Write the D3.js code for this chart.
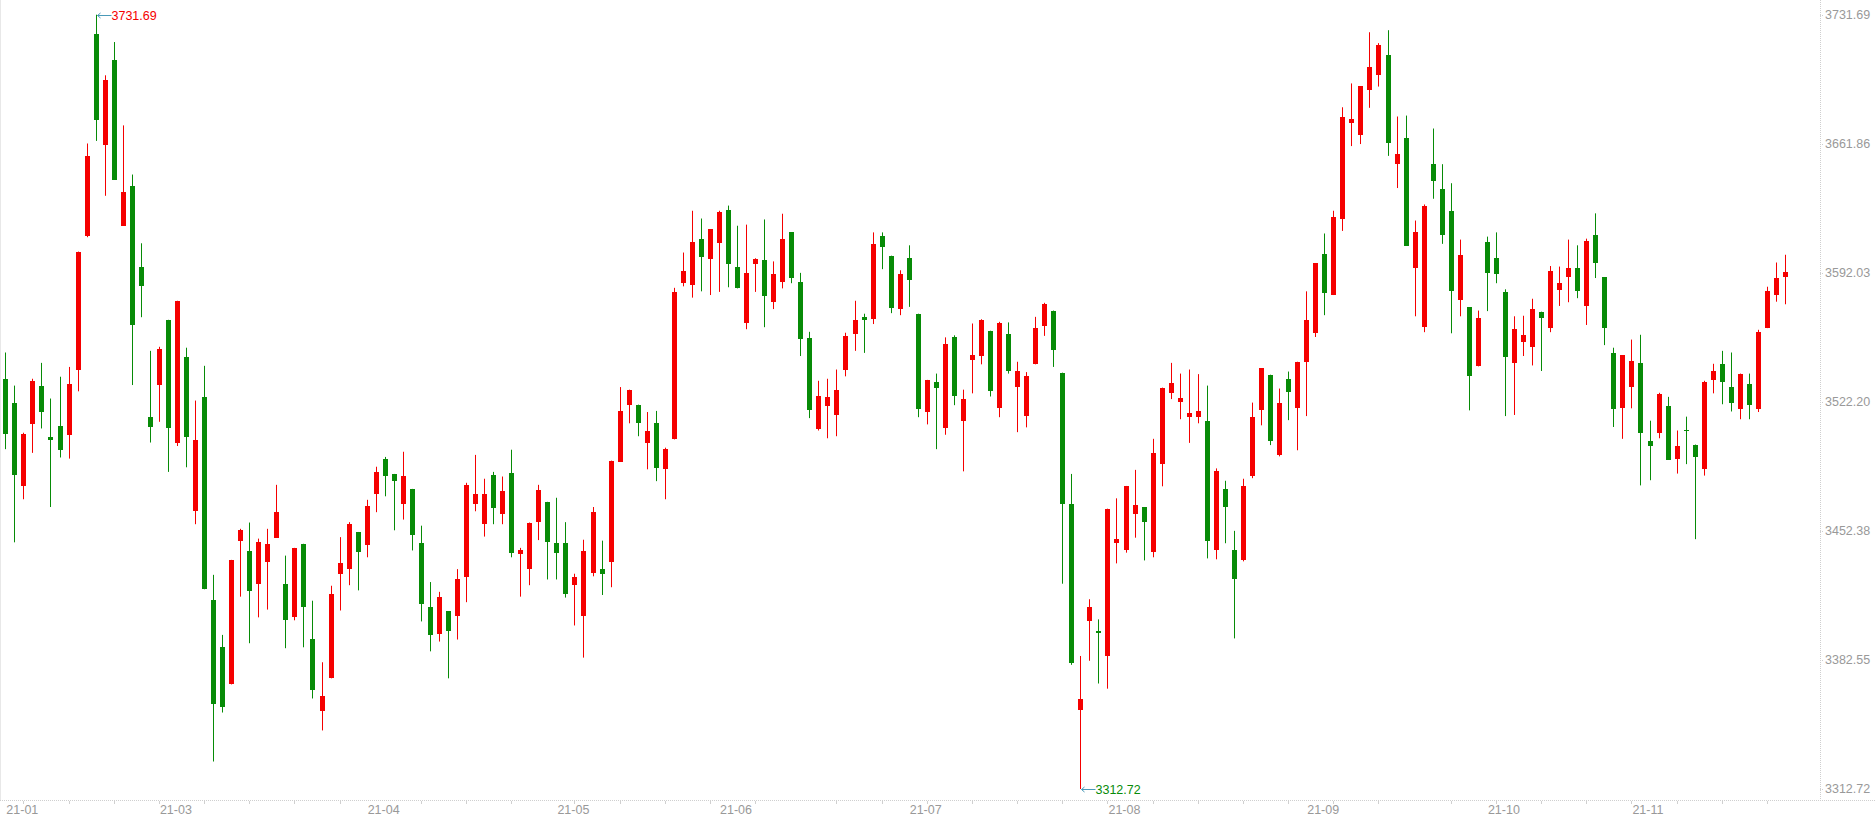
<!DOCTYPE html>
<html>
<head>
<meta charset="utf-8">
<title>K线图</title>
<script src="https://cdn.jsdelivr.net/npm/d3@7"></script>
<style>
    html, body { margin: 0; padding: 0; background: #fff; overflow: hidden; }
    .plot-container { width: 1876px; height: 818px; }
    text { font-family: Arial, "Liberation Sans", sans-serif; }
</style>
</head>
<body>
<div class="plot-container"></div>
<script>
// trading days, one per candle
const dates = [
    "2021-01-28","2021-01-29",
    "2021-02-01","2021-02-02","2021-02-03","2021-02-04","2021-02-05","2021-02-08","2021-02-09","2021-02-10",
    "2021-02-18","2021-02-19","2021-02-22","2021-02-23","2021-02-24","2021-02-25","2021-02-26",
    "2021-03-01","2021-03-02","2021-03-03","2021-03-04","2021-03-05","2021-03-08","2021-03-09","2021-03-10",
    "2021-03-11","2021-03-12","2021-03-15","2021-03-16","2021-03-17","2021-03-18","2021-03-19","2021-03-22",
    "2021-03-23","2021-03-24","2021-03-25","2021-03-26","2021-03-29","2021-03-30","2021-03-31",
    "2021-04-01","2021-04-02","2021-04-06","2021-04-07","2021-04-08","2021-04-09","2021-04-12","2021-04-13",
    "2021-04-14","2021-04-15","2021-04-16","2021-04-19","2021-04-20","2021-04-21","2021-04-22","2021-04-23",
    "2021-04-26","2021-04-27","2021-04-28","2021-04-29","2021-04-30",
    "2021-05-06","2021-05-07","2021-05-10","2021-05-11","2021-05-12","2021-05-13","2021-05-14","2021-05-17",
    "2021-05-18","2021-05-19","2021-05-20","2021-05-21","2021-05-24","2021-05-25","2021-05-26","2021-05-27",
    "2021-05-28","2021-05-31",
    "2021-06-01","2021-06-02","2021-06-03","2021-06-04","2021-06-07","2021-06-08","2021-06-09","2021-06-10",
    "2021-06-11","2021-06-15","2021-06-16","2021-06-17","2021-06-18","2021-06-21","2021-06-22","2021-06-23",
    "2021-06-24","2021-06-25","2021-06-28","2021-06-29","2021-06-30",
    "2021-07-01","2021-07-02","2021-07-05","2021-07-06","2021-07-07","2021-07-08","2021-07-09","2021-07-12",
    "2021-07-13","2021-07-14","2021-07-15","2021-07-16","2021-07-19","2021-07-20","2021-07-21","2021-07-22",
    "2021-07-23","2021-07-26","2021-07-27","2021-07-28","2021-07-29","2021-07-30",
    "2021-08-02","2021-08-03","2021-08-04","2021-08-05","2021-08-06","2021-08-09","2021-08-10","2021-08-11",
    "2021-08-12","2021-08-13","2021-08-16","2021-08-17","2021-08-18","2021-08-19","2021-08-20","2021-08-23",
    "2021-08-24","2021-08-25","2021-08-26","2021-08-27","2021-08-30","2021-08-31",
    "2021-09-01","2021-09-02","2021-09-03","2021-09-06","2021-09-07","2021-09-08","2021-09-09","2021-09-10",
    "2021-09-13","2021-09-14","2021-09-15","2021-09-16","2021-09-17","2021-09-22","2021-09-23","2021-09-24",
    "2021-09-27","2021-09-28","2021-09-29","2021-09-30",
    "2021-10-08","2021-10-11","2021-10-12","2021-10-13","2021-10-14","2021-10-15","2021-10-18","2021-10-19",
    "2021-10-20","2021-10-21","2021-10-22","2021-10-25","2021-10-26","2021-10-27","2021-10-28","2021-10-29",
    "2021-11-01","2021-11-02","2021-11-03","2021-11-04","2021-11-05","2021-11-08","2021-11-09","2021-11-10",
    "2021-11-11","2021-11-12","2021-11-15","2021-11-16","2021-11-17","2021-11-18","2021-11-19","2021-11-22",
    "2021-11-23","2021-11-24"
];

const opens = [
    3534.7,3521.8,3476.5,3510.0,3531.0,3503.3,3509.2,3504.2,3539.4,3612.2,
    3721.1,3661.2,3707.1,3617.5,3638.8,3595.1,3514.2,3531.3,3566.6,3499.7,
    3546.7,3463.0,3524.9,3414.9,3389.4,3369.3,3446.8,3441.5,3423.8,3435.3,
    3448.7,3423.6,3405.6,3445.4,3393.9,3354.7,3372.6,3428.9,3431.9,3451.8,
    3444.5,3472.3,3491.3,3483.2,3466.7,3475.1,3446.0,3411.2,3396.4,3409.0,
    3406.5,3427.2,3466.7,3456.0,3482.6,3461.3,3483.7,3439.8,3431.7,3457.4,
    3468.1,3446.0,3446.0,3423.0,3406.2,3429.4,3431.7,3435.3,3489.9,3520.4,
    3520.7,3500.2,3510.9,3485.7,3501.9,3586.4,3585.3,3610.5,3599.6,3608.3,
    3626.2,3595.4,3564.9,3596.8,3598.7,3576.1,3587.0,3613.9,3587.3,3556.5,
    3507.5,3519.8,3515.1,3539.4,3558.7,3568.2,3566.9,3612.2,3601.3,3572.4,
    3600.1,3569.9,3516.5,3533.0,3507.8,3557.1,3511.7,3544.7,3547.0,3560.7,
    3518.7,3559.0,3530.2,3514.5,3542.5,3563.2,3571.6,3538.0,3467.0,3355.3,
    3403.4,3398.1,3384.9,3446.0,3442.3,3461.3,3465.3,3441.2,3488.5,3527.1,
    3522.1,3513.9,3513.9,3512.0,3441.8,3475.1,3442.0,3436.4,3482.0,3517.6,
    3536.9,3493.5,3534.7,3518.7,3543.6,3559.3,3602.4,3580.0,3621.1,3673.2,
    3666.8,3691.1,3699.2,3709.9,3651.1,3664.8,3594.5,3562.6,3651.1,3637.6,
    3625.6,3577.2,3573.3,3541.4,3608.8,3600.1,3581.4,3543.0,3554.5,3551.7,
    3571.0,3562.1,3582.8,3589.8,3594.8,3574.1,3612.7,3589.5,3548.4,3518.7,
    3530.2,3543.3,3501.1,3505.3,3520.1,3491.5,3507.2,3499.1,3485.7,3533.8,
    3542.8,3530.5,3518.1,3531.6,3518.4,3562.1,3580.0,3589.8
];

const highs = [
    3548.9,3531.0,3505.5,3534.7,3543.3,3524.0,3535.8,3541.1,3603.5,3662.0,
    3731.69,3698.9,3716.9,3671.8,3645.2,3608.0,3549.8,3552.0,3566.6,3576.9,
    3551.5,3522.9,3541.7,3428.6,3396.1,3436.7,3453.5,3456.9,3448.2,3453.5,
    3477.3,3439.0,3443.2,3445.4,3414.6,3381.3,3422.7,3449.0,3457.1,3451.8,
    3469.2,3487.1,3492.4,3483.2,3495.2,3475.1,3455.2,3424.7,3419.4,3409.0,
    3431.7,3478.4,3493.5,3480.6,3484.3,3481.8,3496.3,3443.2,3456.9,3477.3,
    3468.1,3470.3,3457.1,3429.2,3447.6,3465.3,3447.1,3490.4,3530.2,3528.8,
    3520.7,3516.7,3517.3,3497.4,3583.9,3603.0,3625.6,3621.4,3615.5,3625.6,
    3628.4,3617.5,3618.1,3599.9,3620.9,3598.2,3624.0,3613.9,3592.0,3560.1,
    3533.6,3534.7,3539.7,3559.6,3576.9,3569.9,3613.9,3613.9,3601.3,3593.4,
    3606.9,3569.9,3534.1,3537.5,3557.1,3558.2,3528.8,3564.6,3566.9,3560.7,
    3565.5,3565.2,3543.9,3538.3,3568.2,3575.8,3571.6,3538.0,3483.2,3384.7,
    3415.4,3404.5,3464.4,3470.0,3476.7,3485.4,3465.3,3502.2,3529.9,3543.3,
    3537.5,3539.7,3537.2,3531.0,3486.2,3479.5,3452.4,3480.6,3521.8,3540.3,
    3536.9,3529.4,3538.6,3543.9,3582.0,3597.1,3613.3,3625.6,3681.6,3694.5,
    3693.1,3722.2,3716.3,3723.3,3676.6,3677.1,3620.3,3629.0,3670.1,3650.8,
    3640.5,3610.0,3573.3,3571.6,3611.6,3613.9,3583.1,3568.5,3568.8,3578.0,
    3571.0,3595.7,3595.4,3610.0,3606.9,3610.5,3624.2,3589.5,3551.5,3547.3,
    3555.9,3558.5,3512.0,3527.1,3524.9,3506.7,3514.2,3499.1,3533.6,3542.8,
    3549.8,3548.9,3537.5,3537.5,3561.2,3584.5,3597.6,3601.8
];

const lows = [
    3496.6,3446.2,3469.5,3494.6,3507.8,3465.3,3492.1,3491.5,3527.9,3611.3,
    3663.4,3633.7,3642.4,3617.5,3531.3,3568.0,3500.2,3511.4,3484.3,3498.3,
    3486.8,3456.0,3420.8,3327.6,3354.1,3369.3,3416.8,3391.6,3405.6,3409.8,
    3448.7,3388.9,3404.0,3389.4,3361.7,3344.4,3372.6,3409.3,3423.0,3420.2,
    3438.1,3462.5,3471.1,3452.7,3458.5,3441.8,3403.4,3387.2,3392.5,3372.6,
    3393.6,3413.8,3463.0,3449.3,3456.0,3456.0,3438.1,3416.8,3423.0,3447.4,
    3426.1,3426.1,3416.3,3401.2,3383.8,3427.8,3417.7,3421.9,3489.9,3510.6,
    3503.6,3485.7,3479.3,3469.5,3501.9,3584.7,3578.6,3582.0,3580.0,3581.7,
    3584.2,3583.6,3561.5,3581.7,3562.6,3572.4,3583.6,3586.4,3547.0,3513.4,
    3506.7,3502.5,3503.6,3536.0,3549.8,3548.7,3564.3,3594.0,3570.2,3569.1,
    3573.6,3513.9,3510.0,3496.6,3504.4,3520.4,3484.6,3526.8,3542.5,3525.1,
    3513.9,3537.5,3505.8,3508.4,3542.5,3557.9,3541.1,3423.8,3379.9,3312.72,
    3382.1,3369.8,3367.0,3434.8,3440.6,3448.7,3436.4,3438.1,3476.5,3523.7,
    3512.8,3500.0,3510.6,3437.5,3437.0,3445.7,3394.2,3435.9,3480.9,3509.5,
    3498.8,3492.7,3512.3,3496.0,3514.5,3557.3,3569.1,3580.0,3614.7,3660.6,
    3661.7,3681.3,3692.8,3655.3,3637.9,3606.6,3568.5,3559.9,3632.1,3607.7,
    3559.3,3568.5,3517.6,3541.4,3571.3,3586.4,3514.5,3515.1,3547.0,3541.9,
    3538.9,3559.9,3574.1,3576.1,3578.3,3563.8,3589.2,3552.9,3508.6,3502.2,
    3518.7,3477.0,3479.8,3502.5,3491.0,3483.4,3488.5,3447.9,3482.3,3526.8,
    3520.9,3517.0,3512.8,3512.8,3516.7,3562.1,3576.4,3575.0
];

const closes = [
    3505.0,3482.6,3505.0,3533.6,3516.5,3501.4,3496.0,3532.1,3603.5,3655.0,
    3674.9,3696.2,3642.4,3636.0,3563.8,3584.7,3508.4,3550.9,3507.8,3576.9,
    3503.0,3501.6,3420.8,3358.9,3357.2,3436.7,3452.9,3419.6,3446.5,3445.4,
    3462.7,3404.0,3443.2,3411.0,3366.5,3363.1,3418.2,3435.0,3456.3,3441.2,
    3465.8,3484.3,3482.3,3479.3,3482.0,3449.9,3412.6,3395.9,3416.6,3398.4,
    3426.4,3477.3,3472.5,3472.5,3464.7,3473.9,3440.6,3442.0,3456.9,3474.5,
    3446.2,3440.6,3418.5,3427.5,3441.5,3462.7,3428.9,3490.4,3517.3,3528.8,
    3510.6,3506.7,3486.2,3496.9,3581.4,3593.2,3608.8,3600.4,3615.5,3624.8,
    3596.8,3583.6,3591.8,3599.3,3579.4,3591.2,3610.5,3589.2,3556.2,3517.6,
    3525.4,3524.9,3528.8,3557.6,3566.3,3566.6,3607.4,3606.0,3573.0,3591.2,
    3588.1,3518.4,3534.1,3529.6,3553.7,3525.1,3524.0,3547.8,3566.3,3527.9,
    3564.9,3538.9,3539.1,3536.3,3562.4,3575.0,3550.1,3466.7,3380.7,3361.4,
    3411.2,3397.0,3464.4,3447.9,3476.7,3466.4,3457.4,3494.6,3529.9,3532.4,
    3524.3,3516.2,3517.0,3446.8,3484.9,3465.3,3426.6,3476.7,3514.2,3540.3,
    3501.1,3521.8,3527.4,3543.9,3566.6,3597.1,3581.1,3622.0,3676.6,3675.1,
    3693.1,3703.2,3715.2,3662.3,3656.1,3606.6,3613.9,3628.4,3641.9,3612.5,
    3582.2,3601.8,3536.1,3567.7,3592.0,3591.5,3546.4,3561.8,3558.2,3572.2,
    3567.4,3593.2,3586.7,3594.8,3582.2,3609.4,3597.4,3562.1,3518.1,3547.3,
    3544.5,3505.3,3498.3,3526.5,3491.0,3498.5,3506.4,3492.1,3532.7,3539.1,
    3533.0,3521.5,3537.5,3520.4,3560.1,3582.0,3589.0,3592.4
];

// right axis tick labels
const yTicks = [3312.72, 3382.55, 3452.38, 3522.20, 3592.03, 3661.86, 3731.69];

const UP = "#f50000";
const DOWN = "#078b07";
const AXIS_TEXT = "#999999";
const ARROW = "#4a9ab8";

let plot = {};

/**
 * Build the svg, the scales and the frame lines.
 * @param plot plot object that keeps all selections and scales
 * @param key selector for the html
 */
function initPlot(plot, key) {
    plot.width = 1876;
    plot.height = 818;
    plot.axisX = 1820;      // right border / y axis
    plot.axisY = 800;       // bottom border / x axis

    plot.graph = d3.select(key).append("svg")
        .attr("width", plot.width)
        .attr("height", plot.height);
    plot.plot = plot.graph.append("g");

    plot.candles = dates.map((d, i) => ({
        date: d, open: opens[i], high: highs[i], low: lows[i], close: closes[i]
    }));

    plot.x = d3.scaleBand()
        .domain(dates)
        .range([0.8, 0.8 + dates.length * 9.034])
        .padding(0);
    plot.y = d3.scaleLinear()
        .domain([yTicks[0], yTicks[yTicks.length - 1]])
        .range([789, 14.7]);

    // frame
    plot.plot.append("line")
        .attr("x1", 0.5).attr("x2", 0.5)
        .attr("y1", 0).attr("y2", plot.axisY)
        .attr("stroke", "#e8e8e8");
    plot.plot.append("line")
        .attr("x1", plot.axisX + 0.5).attr("x2", plot.axisX + 0.5)
        .attr("y1", 0).attr("y2", plot.axisY)
        .attr("stroke", "#cfcfcf")
        .attr("stroke-dasharray", "1,1");
    plot.plot.append("line")
        .attr("x1", 0).attr("x2", plot.width)
        .attr("y1", plot.axisY + 0.5).attr("y2", plot.axisY + 0.5)
        .attr("stroke", "#cfcfcf")
        .attr("stroke-dasharray", "1,1");
}

/**
 * Labels on the right side and the month labels on the bottom.
 * @param plot plot element
 */
function drawAxes(plot) {
    let yAxis = plot.plot.append("g");
    yAxis.selectAll("line").data(yTicks).join("line")
        .attr("x1", plot.axisX).attr("x2", plot.axisX + 4)
        .attr("y1", d => Math.round(plot.y(d)) + 0.5)
        .attr("y2", d => Math.round(plot.y(d)) + 0.5)
        .attr("stroke", "#cfcfcf")
        .attr("stroke-dasharray", "1,1");
    yAxis.selectAll("text").data(yTicks).join("text")
        .attr("x", plot.axisX + 5)
        .attr("y", d => plot.y(d))
        .attr("dy", "0.35em")
        .attr("fill", AXIS_TEXT)
        .style("font-size", "12.5px")
        .text(d => d.toFixed(2));

    let cx = d => plot.x(d) + plot.x.bandwidth() / 2;

    // a small tick under every monday
    let mondays = dates.filter(d => new Date(d + "T00:00:00").getDay() === 1);
    plot.plot.append("g").selectAll("line").data(mondays).join("line")
        .attr("x1", d => Math.round(cx(d)) + 0.5)
        .attr("x2", d => Math.round(cx(d)) + 0.5)
        .attr("y1", plot.axisY + 1).attr("y2", plot.axisY + 4)
        .attr("stroke", "#d0d0d0");

    // first trading day of each month, skip when it would overlap
    let months = [];
    let lastX = -100;
    dates.forEach((d, i) => {
        if (i === 0 || d.slice(0, 7) !== dates[i - 1].slice(0, 7)) {
            let px = cx(d);
            if (px - lastX > 45) {
                months.push(d);
                lastX = px;
            }
        }
    });
    plot.plot.append("g").selectAll("text").data(months).join("text")
        .attr("x", d => cx(d) + 1)
        .attr("y", 814)
        .attr("fill", AXIS_TEXT)
        .style("font-size", "12.5px")
        .text(d => d.slice(2, 7));
}

/**
 * Wicks and bodies, red when the close is not below the open.
 * @param plot plot element
 */
function drawCandles(plot) {
    let cx = d => plot.x(d.date) + plot.x.bandwidth() / 2;
    let color = d => d.close >= d.open ? UP : DOWN;
    let g = plot.plot.append("g");

    g.selectAll(".wick").data(plot.candles).join("line")
        .attr("class", "wick")
        .attr("x1", d => Math.round(cx(d)) + 0.5)
        .attr("x2", d => Math.round(cx(d)) + 0.5)
        .attr("y1", d => plot.y(d.high))
        .attr("y2", d => plot.y(d.low))
        .attr("stroke", color)
        .attr("stroke-width", 1);

    g.selectAll(".body").data(plot.candles).join("rect")
        .attr("class", "body")
        .attr("x", d => Math.round(cx(d)) - 2)
        .attr("width", 5)
        .attr("y", d => plot.y(Math.max(d.open, d.close)))
        .attr("height", d => Math.max(1.5, Math.abs(plot.y(d.open) - plot.y(d.close))))
        .attr("fill", color)
        .attr("shape-rendering", "crispEdges");
}

/**
 * Arrow and value at the highest high and the lowest low.
 * @param plot plot element
 */
function drawExtremes(plot) {
    let iMax = d3.maxIndex(highs);
    let iMin = d3.minIndex(lows);
    let marks = [
        {date: dates[iMax], value: highs[iMax], color: UP},
        {date: dates[iMin], value: lows[iMin], color: DOWN}
    ];
    let g = plot.plot.append("g");
    marks.forEach(m => {
        let x0 = Math.round(plot.x(m.date) + plot.x.bandwidth() / 2) + 0.5;
        let y0 = Math.round(plot.y(m.value)) + 0.5;
        g.append("path")
            .attr("d", "M" + (x0 + 15) + "," + y0 + "H" + (x0 + 1) +
                "M" + (x0 + 4) + "," + (y0 - 2.5) + "L" + (x0 + 1) + "," + y0 +
                "L" + (x0 + 4) + "," + (y0 + 2.5))
            .attr("fill", "none")
            .attr("stroke", ARROW)
            .attr("stroke-width", 1);
        g.append("text")
            .attr("x", x0 + 15)
            .attr("y", y0)
            .attr("dy", "0.35em")
            .attr("fill", m.color)
            .style("font-size", "12.5px")
            .text(m.value.toFixed(2));
    });
}

initPlot(plot, ".plot-container");
drawAxes(plot);
drawCandles(plot);
drawExtremes(plot);
</script>
</body>
</html>
